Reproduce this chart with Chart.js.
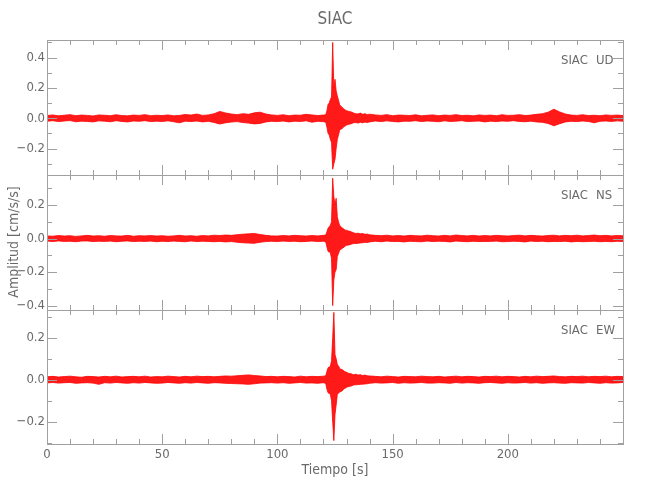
<!DOCTYPE html>
<html>
<head>
<meta charset="utf-8">
<title>SIAC</title>
<script src="https://cdn.jsdelivr.net/npm/chart.js@4.4.1/dist/chart.umd.min.js"></script>
<style>
  body { margin: 0; background: #fff; }
  #wrap { position: relative; width: 650px; height: 500px; }
  canvas { position: absolute; left: 0; top: 0; }
</style>
</head>
<body>
<div id="wrap">
  <canvas id="ud" width="650" height="500"></canvas>
  <canvas id="ns" width="650" height="500"></canvas>
  <canvas id="ew" width="650" height="500"></canvas>
</div>
<script>
// sample times (s): 2.5 s in the quiet parts, finer around the event
const times = [
  0, 2.5, 5, 7.5, 10, 12.5, 15, 17.5, 20, 22.5,
  25, 27.5, 30, 32.5, 35, 37.5, 40, 42.5, 45, 47.5,
  50, 52.5, 55, 57.5, 60, 62.5, 65, 67.5, 70, 72.5,
  75, 77.5, 80, 82.5, 85, 87.5, 90, 92.5, 95, 97.5,
  100, 102.5, 105, 107.5, 110, 112.5, 115, 117.5, 120,
  121, 121.5, 122, 122.5, 123, 123.5, 124, 124.5, 125, 125.5,
  126, 126.5, 127, 127.5, 128, 128.5, 129, 129.5, 130, 130.5,
  131, 132, 133, 134, 135, 136, 137, 138, 139, 140,
  142.5, 145, 147.5, 150, 152.5, 155, 157.5, 160, 162.5, 165,
  167.5, 170, 172.5, 175, 177.5, 180, 182.5, 185, 187.5, 190,
  192.5, 195, 197.5, 200, 202.5, 205, 207.5, 210, 212.5, 215,
  217.5, 220, 222.5, 225, 227.5, 230, 232.5, 235, 237.5, 240,
  242.5, 245, 247.5, 250
];

// upper / lower envelopes (cm/s/s)
const udUpper = [
  .018, .022, .016, .02, .024, .017, .021, .019, .015, .022,
  .02, .017, .023, .018, .016, .021, .019, .024, .017, .02,
  .018, .022, .016, .019, .025, .021, .028, .019, .022, .03,
  .045, .035, .028, .024, .03, .026, .036, .04, .028, .022,
  .019, .023, .017, .021, .02, .026, .022, .018, .021,
  .024, .05, .092, .1, .125, .14, .5, .2, .257, .18,
  .147, .12, .09, .08, .075, .065, .06, .055, .05, .048,
  .045, .042, .035, .03, .028, .034, .026, .03, .024, .027,
  .022, .019, .024, .017, .021, .02, .018, .023, .016, .02,
  .022, .017, .021, .019, .024, .018, .02, .016, .022, .019,
  .021, .017, .023, .019, .02, .024, .018, .021, .026, .03,
  .04, .06, .042, .028, .021, .019, .023, .018, .02, .017,
  .022, .019, .021, .018
];
const udLower = [
  -.02, -.016, -.022, -.018, -.015, -.023, -.019, -.021, -.024, -.017,
  -.019, -.023, -.016, -.021, -.024, -.018, -.02, -.016, -.022, -.019,
  -.021, -.017, -.023, -.03, -.019, -.022, -.018, -.024, -.02, -.028,
  -.038, -.03, -.025, -.022, -.028, -.032, -.037, -.034, -.024, -.02,
  -.022, -.018, -.024, -.019, -.021, -.017, -.026, -.02, -.023,
  -.026, -.06, -.1, -.11, -.14, -.16, -.336, -.3, -.27, -.2,
  -.14, -.11, -.08, -.07, -.07, -.06, -.055, -.05, -.045, -.042,
  -.04, -.036, -.03, -.028, -.032, -.026, -.03, -.025, -.028, -.024,
  -.018, -.022, -.017, -.021, -.024, -.019, -.02, -.016, -.022, -.018,
  -.02, -.023, -.017, -.021, -.019, -.016, -.022, -.02, -.018, -.024,
  -.019, -.022, -.018, -.02, -.016, -.021, -.023, -.019, -.024, -.027,
  -.034, -.05, -.036, -.024, -.02, -.022, -.018, -.021, -.03, -.02,
  -.018, -.021, -.017, -.02
];

const nsUpper = [
  .016, .014, .018, .015, .017, .013, .016, .019, .015, .017,
  .014, .018, .016, .015, .019, .014, .017, .016, .018, .015,
  .017, .014, .016, .019, .015, .017, .014, .018, .016, .02,
  .018, .021, .019, .023, .026, .028, .03, .024, .019, .016,
  .015, .018, .016, .019, .017, .015, .018, .016, .019,
  .021, .04, .062, .07, .08, .1, .36, .25, .2, .24,
  .13, .1, .08, .07, .065, .06, .055, .05, .05, .046,
  .045, .04, .035, .03, .032, .028, .03, .025, .027, .022,
  .019, .017, .02, .016, .018, .015, .019, .017, .016, .02,
  .017, .015, .019, .016, .021, .018, .016, .019, .015, .018,
  .016, .019, .017, .015, .018, .02, .016, .019, .017, .015,
  .018, .02, .016, .019, .017, .02, .016, .018, .021, .017,
  .019, .016, .018, .017
];
const nsLower = [
  -.015, -.018, -.014, -.017, -.016, -.019, -.015, -.014, -.018, -.016,
  -.017, -.015, -.019, -.016, -.014, -.018, -.016, -.017, -.015, -.019,
  -.016, -.018, -.015, -.017, -.019, -.014, -.018, -.016, -.017, -.019,
  -.017, -.02, -.018, -.022, -.025, -.027, -.028, -.022, -.018, -.016,
  -.018, -.015, -.017, -.016, -.019, -.017, -.015, -.018, -.016,
  -.02, -.05, -.077, -.08, -.085, -.12, -.4, -.246, -.2, -.186,
  -.107, -.09, -.07, -.065, -.06, -.055, -.05, -.045, -.04, -.04,
  -.038, -.034, -.03, -.03, -.028, -.026, -.025, -.022, -.024, -.02,
  -.016, -.019, -.015, -.018, -.017, -.02, -.016, -.018, -.019, -.015,
  -.018, -.016, -.017, -.02, -.015, -.017, -.019, -.016, -.018, -.017,
  -.017, -.015, -.019, -.018, -.016, -.017, -.02, -.015, -.018, -.016,
  -.019, -.017, -.018, -.016, -.02, -.017, -.019, -.018, -.016, -.019,
  -.017, -.019, -.016, -.018
];

const ewUpper = [
  .014, .016, .013, .015, .017, .014, .012, .016, .015, .013,
  .016, .014, .017, .013, .015, .016, .014, .017, .013, .015,
  .014, .017, .015, .013, .016, .014, .017, .015, .016, .014,
  .016, .018, .017, .019, .021, .023, .02, .018, .015, .016,
  .014, .016, .015, .013, .017, .014, .016, .015, .017,
  .019, .04, .057, .06, .065, .09, .2, .32, .12, .1,
  .073, .065, .055, .05, .049, .045, .04, .038, .035, .033,
  .03, .028, .024, .026, .022, .024, .02, .022, .019, .018,
  .016, .014, .017, .015, .013, .016, .015, .014, .017, .015,
  .014, .016, .013, .015, .017, .014, .016, .015, .013, .016,
  .015, .017, .014, .016, .015, .013, .016, .014, .017, .015,
  .016, .018, .015, .014, .016, .015, .017, .014, .016, .015,
  .017, .014, .016, .015
];
const ewLower = [
  -.015, -.013, -.016, -.014, -.013, -.017, -.015, -.014, -.016, -.022,
  -.014, -.016, -.013, -.015, -.017, -.014, -.016, -.013, -.015, -.017,
  -.016, -.013, -.015, -.017, -.014, -.016, -.013, -.015, -.017, -.014,
  -.015, -.017, -.018, -.019, -.02, -.022, -.019, -.016, -.015, -.014,
  -.016, -.014, -.017, -.015, -.013, -.016, -.015, -.017, -.014,
  -.018, -.045, -.062, -.065, -.07, -.1, -.2, -.289, -.165, -.12,
  -.07, -.064, -.058, -.056, -.054, -.048, -.042, -.04, -.036, -.034,
  -.032, -.03, -.025, -.024, -.023, -.022, -.021, -.02, -.019, -.017,
  -.014, -.016, -.015, -.013, -.017, -.014, -.016, -.015, -.013, -.016,
  -.016, -.014, -.015, -.017, -.013, -.016, -.014, -.015, -.017, -.014,
  -.013, -.015, -.017, -.014, -.016, -.015, -.013, -.016, -.014, -.017,
  -.015, -.014, -.016, -.017, -.014, -.015, -.016, -.013, -.015, -.017,
  -.014, -.016, -.015, -.013
];

const station = "SIAC";
const components = ["UD", "NS", "EW"];
const yRanges = [[-0.374, 0.516], [-0.426, 0.379], [-0.305, 0.331]];
const xTickLabels = [0, 50, 100, 150, 200];

const lineColor = "#a0a0a0";
const textColor = "#6a6a6a";
const fontFamily = "'Liberation Sans Narrow', 'DejaVu Sans Condensed', 'Liberation Sans', sans-serif";

Chart.defaults.font.family = fontFamily;
Chart.defaults.font.size = 13;
Chart.defaults.color = textColor;

// IDL-style box: frame on all four sides with inward ticks, plus the text
const framePlugin = {
  id: "frame",
  afterDraw(chart, args, opts) {
    const { ctx, chartArea: a, scales } = chart;
    const x = scales.x;
    const y = scales.y;
    ctx.save();
    ctx.strokeStyle = lineColor;
    ctx.lineWidth = 1;
    ctx.strokeRect(a.left + 0.5, a.top + 0.5, a.right - a.left, a.bottom - a.top);

    ctx.beginPath();
    for (let v = 10; v < 250; v += 10) {
      const px = Math.round(x.getPixelForValue(v)) + 0.5;
      const len = v % 50 === 0 ? 10 : 5;
      ctx.moveTo(px, a.bottom);
      ctx.lineTo(px, a.bottom - len);
      ctx.moveTo(px, a.top);
      ctx.lineTo(px, a.top + len);
    }
    for (let k = Math.ceil(y.min * 10); k <= Math.floor(y.max * 10); k++) {
      const py = Math.round(y.getPixelForValue(k / 10)) + 0.5;
      const len = k % 2 === 0 ? 10 : 5;
      ctx.moveTo(a.left, py);
      ctx.lineTo(a.left + len, py);
      ctx.moveTo(a.right, py);
      ctx.lineTo(a.right - len, py);
    }
    ctx.stroke();

    ctx.fillStyle = textColor;
    ctx.font = "13px " + fontFamily;
    ctx.textBaseline = "middle";
    ctx.textAlign = "left";
    ctx.fillText(station, a.right - 62, a.top + 21);
    ctx.fillText(opts.comp, a.right - 27, a.top + 21);

    if (opts.title) {
      ctx.textAlign = "center";
      ctx.font = "17px " + fontFamily;
      ctx.fillText(station, (a.left + a.right) / 2, 20);
    }
    if (opts.yTitle) {
      ctx.font = "14px " + fontFamily;
      ctx.save();
      ctx.translate(14, 242);
      ctx.rotate(-Math.PI / 2);
      ctx.textAlign = "center";
      ctx.fillText("Amplitud [cm/s/s]", 0, 0);
      ctx.restore();
    }
    if (opts.xTitle) {
      ctx.font = "14px " + fontFamily;
      ctx.textAlign = "center";
      ctx.fillText("Tiempo [s]", (a.left + a.right) / 2, 470);
    }
    ctx.restore();
  },
};

const makePanel = (id, upper, lower, idx, top, bottom, extra) => {
  const showX = idx === 2;
  const toPoints = (arr) => times.map((t, i) => ({ x: t, y: arr[i] }));
  new Chart(document.getElementById(id), {
    type: "line",
    data: {
      datasets: [
        {
          data: toPoints(upper),
          borderColor: "#ff0000",
          backgroundColor: "rgba(255, 0, 0, 0.9)",
          borderWidth: 0.8,
          pointRadius: 0,
          fill: "+1",
        },
        {
          data: toPoints(lower),
          borderColor: "#ff0000",
          borderWidth: 0.8,
          pointRadius: 0,
          fill: false,
        },
      ],
    },
    options: {
      responsive: false,
      animation: false,
      events: [],
      layout: {
        padding: { left: 0, right: 27, top: top, bottom: showX ? 500 - bottom - 20 : 500 - bottom },
      },
      scales: {
        x: {
          type: "linear",
          display: showX,
          min: 0,
          max: 250,
          grid: { display: false, drawTicks: false },
          border: { display: false },
          ticks: {
            stepSize: 50,
            padding: 3,
            maxRotation: 0,
            callback: (v) => (xTickLabels.includes(v) ? String(v) : ""),
          },
          afterFit: (s) => { s.height = showX ? 20 : 0; },
        },
        y: {
          type: "linear",
          min: yRanges[idx][0],
          max: yRanges[idx][1],
          grid: { display: false, drawTicks: false },
          border: { display: false },
          ticks: {
            stepSize: 0.2,
            includeBounds: false,
            padding: 2,
            callback: (v) => {
              const r = Math.round(v * 10) / 10;
              return (r < 0 ? "\u2212" : "") + Math.abs(r).toFixed(1);
            },
          },
          afterFit: (s) => { s.width = 47; },
        },
      },
      plugins: {
        legend: { display: false },
        tooltip: { enabled: false },
        frame: Object.assign({ comp: components[idx] }, extra),
      },
    },
    plugins: [framePlugin],
  });
};

makePanel("ud", udUpper, udLower, 0, 40, 175, { title: true });
makePanel("ns", nsUpper, nsLower, 1, 175, 310, { yTitle: true });
makePanel("ew", ewUpper, ewLower, 2, 310, 444, { xTitle: true });
</script>
</body>
</html>
